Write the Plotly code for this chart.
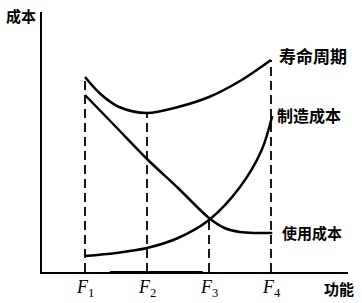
import plotly.graph_objects as go

# Function levels (x positions of F1..F4)
f_levels = [1, 2, 3, 4]
f_labels = ["<i>F</i><sub>1</sub>", "<i>F</i><sub>2</sub>", "<i>F</i><sub>3</sub>", "<i>F</i><sub>4</sub>"]

# Life-cycle cost curve
life_x = [1.0, 1.25, 1.55, 2.0, 2.5, 3.0, 3.5, 4.0]
life_y = [195, 178, 165, 159, 165, 175, 191, 212]

# Usage cost curve (decreasing)
use_x = [1.0, 1.5, 2.0, 2.5, 3.0, 3.25, 3.5, 3.75, 4.02]
use_y = [177, 145, 113, 84, 54, 44, 40, 39, 39]

# Manufacturing cost curve (increasing)
mfg_x = [1.0, 1.5, 2.0, 2.5, 3.0, 3.5, 3.85, 4.02]
mfg_y = [16, 19, 24, 34, 52, 85, 122, 156]

# Heights where the dashed guide lines stop
guide_top = [195, 159, 52, 212]

fig = go.Figure()

for fx, top in zip(f_levels, guide_top):
    fig.add_trace(go.Scatter(x=[fx, fx], y=[0, top], mode="lines",
                             line=dict(color="black", width=1.8, dash="9px,5px"),
                             hoverinfo="skip", showlegend=False))

for xs, ys in [(life_x, life_y), (use_x, use_y), (mfg_x, mfg_y)]:
    fig.add_trace(go.Scatter(x=xs, y=ys, mode="lines",
                             line=dict(color="black", width=2.5, shape="spline", smoothing=0.9),
                             hoverinfo="skip", showlegend=False))

cjk = "Noto Sans CJK SC"
ann = []
# tick labels (below the x axis)
for fx, lab in zip(f_levels, f_labels):
    ann.append(dict(x=fx, y=-0.062, xref="x", yref="paper", text=lab, showarrow=False,
                    font=dict(family="Liberation Serif", size=18, color="black"),
                    xanchor="center", yanchor="middle"))
ann += [
    dict(x=4.1, y=life_y[-1] + 5, xref="x", yref="y", text="<b>寿命周期</b>", showarrow=False,
         font=dict(family=cjk, size=17, color="black"), xanchor="left", yanchor="middle"),
    dict(x=4.07, y=mfg_y[-1] + 1, xref="x", yref="y", text="<b>制造成本</b>", showarrow=False,
         font=dict(family=cjk, size=16, color="black"), xanchor="left", yanchor="middle"),
    dict(x=4.15, y=use_y[-1] + 1, xref="x", yref="y", text="<b>使用成本</b>", showarrow=False,
         font=dict(family=cjk, size=15, color="black"), xanchor="left", yanchor="middle"),
    dict(x=0.971, y=-0.062, xref="paper", yref="paper", text="<b>功能</b>", showarrow=False,
         font=dict(family=cjk, size=15, color="black"), xanchor="center", yanchor="middle"),
    dict(x=-0.013, y=0.988, xref="paper", yref="paper", text="<b>成本</b>", showarrow=False,
         font=dict(family=cjk, size=15, color="black"), xanchor="right", yanchor="middle"),
]

fig.update_layout(
    width=362, height=303,
    margin=dict(l=42, r=14, t=12, b=31),
    paper_bgcolor="white", plot_bgcolor="white",
    xaxis=dict(range=[0.3065, 5.242], showgrid=False, zeroline=False, showticklabels=False,
               showline=True, linecolor="black", linewidth=1.5, ticks="", fixedrange=True),
    yaxis=dict(range=[0, 260], showgrid=False, zeroline=False, showticklabels=False,
               showline=True, linecolor="black", linewidth=1.5, ticks="", fixedrange=True),
    annotations=ann,
    shapes=[dict(type="line", xref="x", yref="y", x0=1.40, x1=2.90, y0=-0.6, y1=-0.6,
                 line=dict(color="black", width=3))],
    showlegend=False,
)

fig.write_html("out.html")
